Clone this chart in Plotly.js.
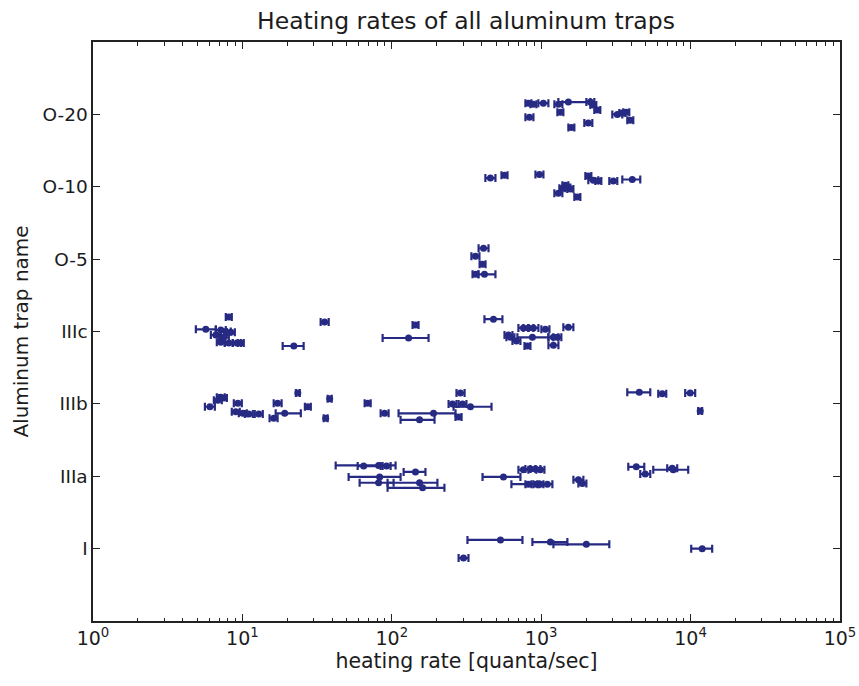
<!DOCTYPE html>
<html>
<head>
<meta charset="utf-8">
<script src="https://cdn.plot.ly/plotly-3.0.1.min.js"></script>
<style>html,body{margin:0;padding:0;background:#fff;}#chart{width:859px;height:686px;}</style>
</head>
<body>
<div id="chart"></div>
<script>
// Trap names (y categories, bottom to top)
const trapNames = ["I", "IIIa", "IIIb", "IIIc", "O-5", "O-10", "O-20"];
const xTickVals = [1, 10, 100, 1000, 10000, 100000];
const xTickText = ["10<sup>0</sup>", "10<sup>1</sup>", "10<sup>2</sup>", "10<sup>3</sup>", "10<sup>4</sup>", "10<sup>5</sup>"];

// Trap I
const rateI   = [534, 1152, 2005, 302, 11955];
const loI     = [321, 873, 1207, 280, 10093];
const hiI     = [749, 1497, 2857, 326, 13944];
const jitterI = [0.12, 0.09, 0.06, -0.13, 0.0];

// Trap IIIa
const rateIIIa   = [64.8, 81.6, 92.3, 144, 82.9, 81.6, 153.4, 160.7, 559, 760, 847, 915, 988, 821, 929, 988, 1100, 1774, 1886, 4329, 4972, 7534, 7652];
const loIIIa     = [59.1, 42.1, 86.8, 120, 51.4, 60.9, 93.7, 93.7, 405, 704, 784, 847, 929, 784, 887, 943, 632, 1643, 1773, 3827, 4604, 6976, 5623];
const hiIIIa     = [84.2, 106, 98.2, 168, 114.5, 102.8, 202, 225, 726, 821, 915, 988, 1051, 860, 973, 1035, 1188, 1916, 2006, 4897, 5370, 8137, 9638];
const jitterIIIa = [0.14, 0.15, 0.14, 0.06, -0.01, -0.09, -0.09, -0.16, -0.01, 0.09, 0.1, 0.1, 0.09, -0.11, -0.11, -0.11, -0.11, -0.05, -0.1, 0.13, 0.03, 0.11, 0.09];

// Trap IIIb
const rateIIIb   = [7.17, 7.40, 6.85, 6.06, 9.32, 9.03, 10.06, 11.04, 12.87, 16.2, 17.2, 19.2, 23.5, 27.4, 38.4, 36.1, 68.9, 89.5, 190.3, 153.4, 288, 255, 297.5, 336, 280, 4533, 6461, 9938, 11591];
const loIIIb     = [6.74, 6.96, 6.44, 5.61, 8.76, 8.49, 9.46, 10.38, 12.1, 15.2, 16.2, 16.7, 22.8, 26.2, 37.2, 35.0, 65.8, 84.2, 111, 114.5, 271, 240, 280, 259, 267, 3769, 6075, 9202, 11240];
const hiIIIb     = [7.62, 7.87, 7.28, 6.54, 9.91, 9.60, 10.7, 11.74, 13.69, 17.2, 18.3, 24.6, 24.2, 28.7, 39.6, 37.2, 72.2, 95.2, 267, 193.2, 307, 271, 316, 465, 293, 5370, 6871, 10733, 11953];
const jitterIIIb = [0.09, 0.08, 0.05, -0.04, 0.01, -0.11, -0.13, -0.14, -0.14, -0.2, 0.01, -0.13, 0.15, -0.04, 0.07, -0.2, 0.01, -0.13, -0.13, -0.22, 0.15, 0.0, 0.0, -0.04, -0.18, 0.16, 0.14, 0.15, -0.1];

// Trap IIIc
const rateIIIc   = [8.11, 5.69, 7.17, 7.74, 8.37, 6.64, 7.51, 7.17, 8.11, 9.18, 9.75, 35.5, 22.1, 144.2, 129.5, 479, 604, 622, 683, 760, 821, 887, 873, 809, 1067, 1207, 1283, 1207, 1520];
const loIIIc     = [7.74, 4.88, 6.64, 7.17, 7.87, 6.15, 6.95, 6.74, 7.62, 8.63, 9.31, 33.4, 18.6, 137.7, 86.8, 417, 568, 585, 642, 704, 760, 821, 693, 773, 1003, 1118, 1206, 1118, 1407];
const hiIIIc     = [8.49, 6.64, 7.74, 8.36, 8.90, 7.17, 8.11, 7.62, 8.62, 9.76, 10.21, 37.8, 25.7, 151, 176.2, 550, 642, 662, 726, 821, 887, 958, 1117, 847, 1135, 1304, 1364, 1304, 1642];
const jitterIIIc = [0.2, 0.03, 0.02, 0.0, -0.01, -0.05, -0.08, -0.15, -0.16, -0.16, -0.16, 0.13, -0.2, 0.09, -0.09, 0.17, -0.05, -0.08, -0.13, 0.05, 0.05, 0.05, -0.08, -0.2, 0.03, -0.08, -0.08, -0.19, 0.06];

// Trap O-5
const rateO5   = [411, 363, 405, 363, 417];
const loO5     = [381, 341, 387, 347, 380];
const hiO5     = [444, 386, 424, 380, 494];
const jitterO5 = [0.15, 0.04, -0.07, -0.21, -0.21];

// Trap O-10
const rateO10   = [457, 568, 973, 1303, 1386, 1451, 1497, 1568, 1746, 2068, 2233, 2412, 3038, 4070];
const loO10     = [423, 542, 915, 1225, 1323, 1386, 1430, 1497, 1667, 1975, 2068, 2303, 2857, 3490];
const hiO10     = [494, 595, 1035, 1386, 1451, 1520, 1568, 1642, 1828, 2166, 2412, 2526, 3231, 4604];
const jitterO10 = [0.12, 0.16, 0.17, -0.09, -0.02, 0.02, -0.01, -0.03, -0.14, 0.15, 0.09, 0.08, 0.08, 0.1];

// Trap O-20
const rateO20   = [821, 887, 1034, 1303, 1520, 2133, 2233, 2375, 834, 1344, 1592, 2068, 3231, 3490, 3711, 3948];
const loO20     = [784, 847, 957, 1225, 1303, 2006, 2132, 2268, 784, 1283, 1520, 1944, 2992, 3333, 3544, 3770];
const hiO20     = [860, 929, 1117, 1386, 2133, 2268, 2338, 2487, 887, 1407, 1667, 2199, 3490, 3655, 3886, 4134];
const jitterO20 = [0.155, 0.14, 0.155, 0.14, 0.17, 0.17, 0.13, 0.06, -0.04, 0.03, -0.18, -0.12, 0.0, 0.02, 0.03, -0.08];

const groups = [
  [rateI, loI, hiI, jitterI],
  [rateIIIa, loIIIa, hiIIIa, jitterIIIa],
  [rateIIIb, loIIIb, hiIIIb, jitterIIIb],
  [rateIIIc, loIIIc, hiIIIc, jitterIIIc],
  [rateO5, loO5, hiO5, jitterO5],
  [rateO10, loO10, hiO10, jitterO10],
  [rateO20, loO20, hiO20, jitterO20]
];

const color = "#272a82";
const traces = groups.map((g, k) => {
  const [rate, lo, hi, jit] = g;
  return {
    type: "scatter",
    mode: "markers",
    name: trapNames[k],
    x: rate,
    y: jit.map(j => k + j),
    marker: {color: color, size: 7, symbol: "circle"},
    error_x: {
      type: "data",
      symmetric: false,
      array: rate.map((v, i) => hi[i] - v),
      arrayminus: rate.map((v, i) => v - lo[i]),
      color: color,
      thickness: 2.2,
      width: 4
    },
    showlegend: false,
    hoverinfo: "x+name"
  };
});

const fontFam = "DejaVu Sans, sans-serif";
const txt = "#1c1c1c";
const layout = {
  width: 859,
  height: 686,
  margin: {l: 93, r: 19, t: 42, b: 65},
  paper_bgcolor: "#fff",
  plot_bgcolor: "#fff",
  title: {
    text: "Heating rates of all aluminum traps",
    font: {family: fontFam, size: 23.5, color: txt},
    x: 0.5425, xanchor: "center", y: 0.97, yanchor: "middle"
  },
  xaxis: {
    type: "log",
    range: [0, 5],
    tickvals: xTickVals,
    ticktext: xTickText,
    ticks: "inside",
    ticklen: 7,
    tickwidth: 1.2,
    tickcolor: "#222",
    showgrid: false,
    zeroline: false,
    showline: true,
    linecolor: "#222",
    linewidth: 1.6,
    mirror: "ticks",
    tickfont: {family: fontFam, size: 19, color: txt},
    minor: {ticks: "inside", ticklen: 3.5, tickwidth: 1, tickcolor: "#222", dtick: "D1", showgrid: false},
    title: {text: "heating rate [quanta/sec]", font: {family: fontFam, size: 20.5, color: txt}, standoff: 4}
  },
  yaxis: {
    range: [-1, 7],
    tickvals: [0, 1, 2, 3, 4, 5, 6],
    ticktext: trapNames,
    ticks: "inside",
    ticklen: 7,
    tickwidth: 1.2,
    tickcolor: "#222",
    showgrid: false,
    zeroline: false,
    showline: true,
    linecolor: "#222",
    linewidth: 1.6,
    mirror: "ticks",
    tickfont: {family: fontFam, size: 18.5, color: txt},
    title: {text: "Aluminum trap name", font: {family: fontFam, size: 20, color: txt}, standoff: 8}
  }
};

Plotly.newPlot("chart", traces, layout, {displayModeBar: false, staticPlot: true});
</script>
</body>
</html>
